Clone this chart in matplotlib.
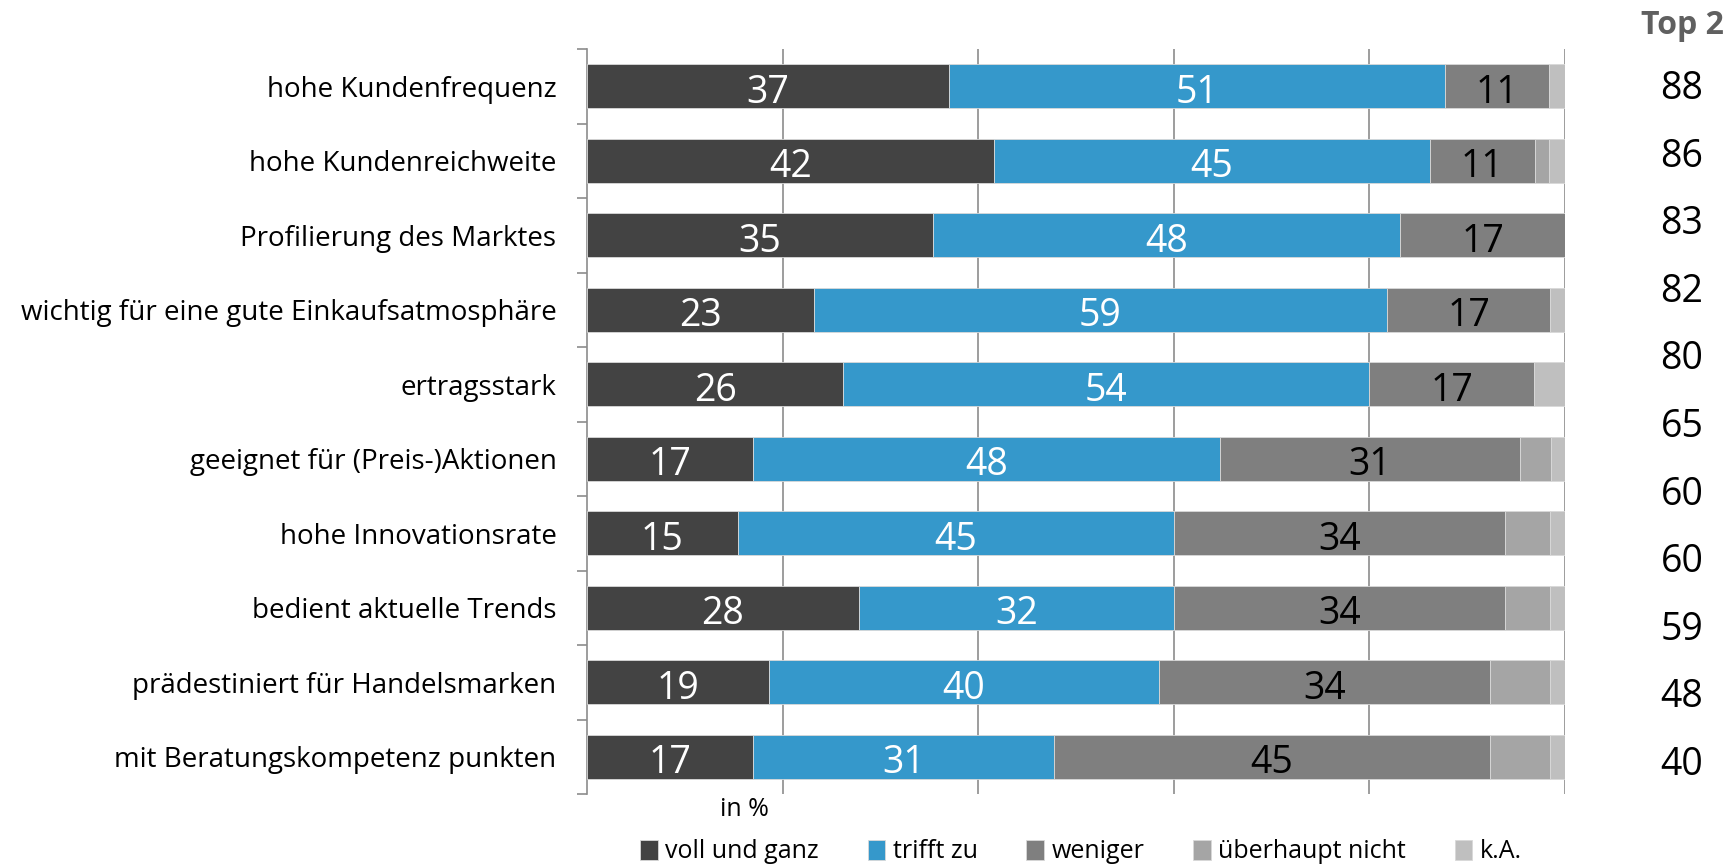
import matplotlib
matplotlib.use("Agg")
import matplotlib.pyplot as plt
import numpy as np

plt.rcParams['font.family'] = ['Open Sans', 'DejaVu Sans']

categories = [
    "hohe Kundenfrequenz",
    "hohe Kundenreichweite",
    "Profilierung des Marktes",
    "wichtig für eine gute Einkaufsatmosphäre",
    "ertragsstark",
    "geeignet für (Preis-)Aktionen",
    "hohe Innovationsrate",
    "bedient aktuelle Trends",
    "prädestiniert für Handelsmarken",
    "mit Beratungskompetenz punkten",
]
series_names = ["voll und ganz", "trifft zu", "weniger", "überhaupt nicht", "k.A."]
voll = [37.0, 41.6, 35.4, 23.2, 26.2, 17.0, 15.4, 27.8, 18.6, 17.0]
trifft = [50.7, 44.6, 47.7, 58.6, 53.8, 47.7, 44.6, 32.2, 39.9, 30.7]
weniger = [10.7, 10.7, 17.0, 16.7, 16.8, 30.7, 33.9, 33.9, 33.8, 44.6]
ueberhaupt = [0.0, 1.5, 0.0, 0.0, 0.0, 3.2, 4.6, 4.6, 6.2, 6.2]
ka = [1.6, 1.6, 0.0, 1.5, 3.2, 1.5, 1.5, 1.5, 1.5, 1.5]
top2 = [88, 86, 83, 82, 80, 65, 60, 60, 59, 48, 40]

colors = ["#434343", "#3598CB", "#7F7F7F", "#A5A5A5", "#BFBFBF"]
label_colors = ["white", "white", "black", None, None]

fig = plt.figure(figsize=(17.33, 8.67), dpi=100)
W, H = 1733, 867
ax = fig.add_axes([587 / W, 1 - 794 / H, (1565 - 587) / W, (794 - 49) / H])

data = [voll, trifft, weniger, ueberhaupt, ka]
y = np.arange(len(categories))
left = np.zeros(len(categories))
for vals, col, lc, name in zip(data, colors, label_colors, series_names):
    vals = np.array(vals)
    ax.barh(y, vals, left=left, height=0.59, color=col, label=name,
            edgecolor="#d9d9d9", linewidth=0.6, zorder=3)
    if lc is not None:
        for yi, l, v in zip(y, left, vals):
            if v > 0:
                ax.text(l + v / 2, yi + 0.03, f"{v:.0f}", ha="center", va="center_baseline",
                        color=lc, fontsize=27, zorder=4)
    left += vals

ax.set_xlim(0, 100)
ax.set_ylim(len(categories) - 0.5, -0.5)
ax.set_xticks([20, 40, 60, 80, 100])
ax.xaxis.grid(True, color="#8c8c8c", linewidth=1.2, zorder=0)
ax.tick_params(axis="x", length=0, labelbottom=False)
ax.set_yticks(y)
ax.set_yticklabels(categories, fontsize=20)
ax.set_yticks(np.arange(len(categories) + 1) - 0.5, minor=True)
ax.tick_params(axis="y", which="major", length=0, pad=22)
ax.tick_params(axis="y", which="minor", length=7, color="#8c8c8c", width=1.2)
for s in ["top", "right", "bottom"]:
    ax.spines[s].set_visible(False)
ax.spines["left"].set_color("#8c8c8c")
ax.spines["left"].set_linewidth(1.2)

fig.text(720 / W, 1 - 809 / H, "in %", ha="left", va="center", fontsize=18)

fig.text(1682 / W, 1 - 26 / H, "Top 2", ha="center", va="center",
         fontsize=23, fontweight="bold", color="#606060")
ys = np.linspace(89, 765, len(top2))
for yy, v in zip(ys, top2):
    fig.text(1682 / W, 1 - yy / H, str(v), ha="center", va="center", fontsize=27)

handles, labels = ax.get_legend_handles_labels()
fig.legend(handles, labels, loc="center", bbox_to_anchor=(1081 / W, 1 - 852 / H),
           ncol=5, frameon=False, fontsize=18, handlelength=0.7, handleheight=0.9,
           handletextpad=0.3, columnspacing=1.95, borderaxespad=0)

fig.savefig("out.png", dpi=100)
